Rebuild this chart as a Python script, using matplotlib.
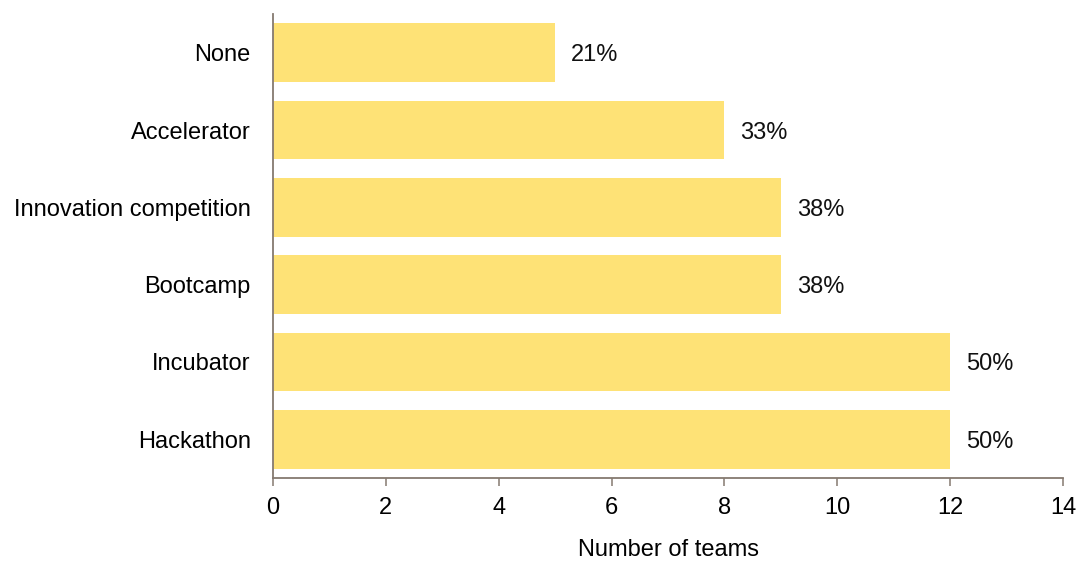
import matplotlib.pyplot as plt

plt.rcParams['font.family'] = ['Liberation Sans', 'DejaVu Sans']

categories = ["Hackathon", "Incubator", "Bootcamp", "Innovation competition",
              "Accelerator", "None"]
teams = [12, 12, 9, 9, 8, 5]
shares = ["50%", "50%", "38%", "38%", "33%", "21%"]

bar_color = "#FEE276"
axis_color = "#857970"

fig = plt.figure(figsize=(10.77, 5.62), dpi=100)
ax = fig.add_axes([0.2535, 0.1495, 0.7335, 0.8255])

pos = range(len(categories))
ax.barh(pos, teams, height=0.76, color=bar_color)

for y, v, s in zip(pos, teams, shares):
    ax.annotate(s, (v, y), xytext=(11.5, 0), textcoords="offset points",
                ha="left", va="center_baseline", fontsize=17, color="#111111")

ax.set_yticks(list(pos))
ax.set_yticklabels(categories)
ax.set_ylim(-0.5, 5.5)
ax.set_xlim(0, 14)
ax.set_xticks(range(0, 15, 2))
ax.set_xlabel("Number of teams", fontsize=17, labelpad=14)

ax.tick_params(axis="y", length=0, pad=16, labelsize=17)
ax.tick_params(axis="x", length=6, width=1.1, color=axis_color,
               pad=8, labelsize=17)

for side in ("top", "right"):
    ax.spines[side].set_visible(False)
for side in ("left", "bottom"):
    ax.spines[side].set_color(axis_color)
    ax.spines[side].set_linewidth(1.3)

fig.savefig("out.png", dpi=100)
